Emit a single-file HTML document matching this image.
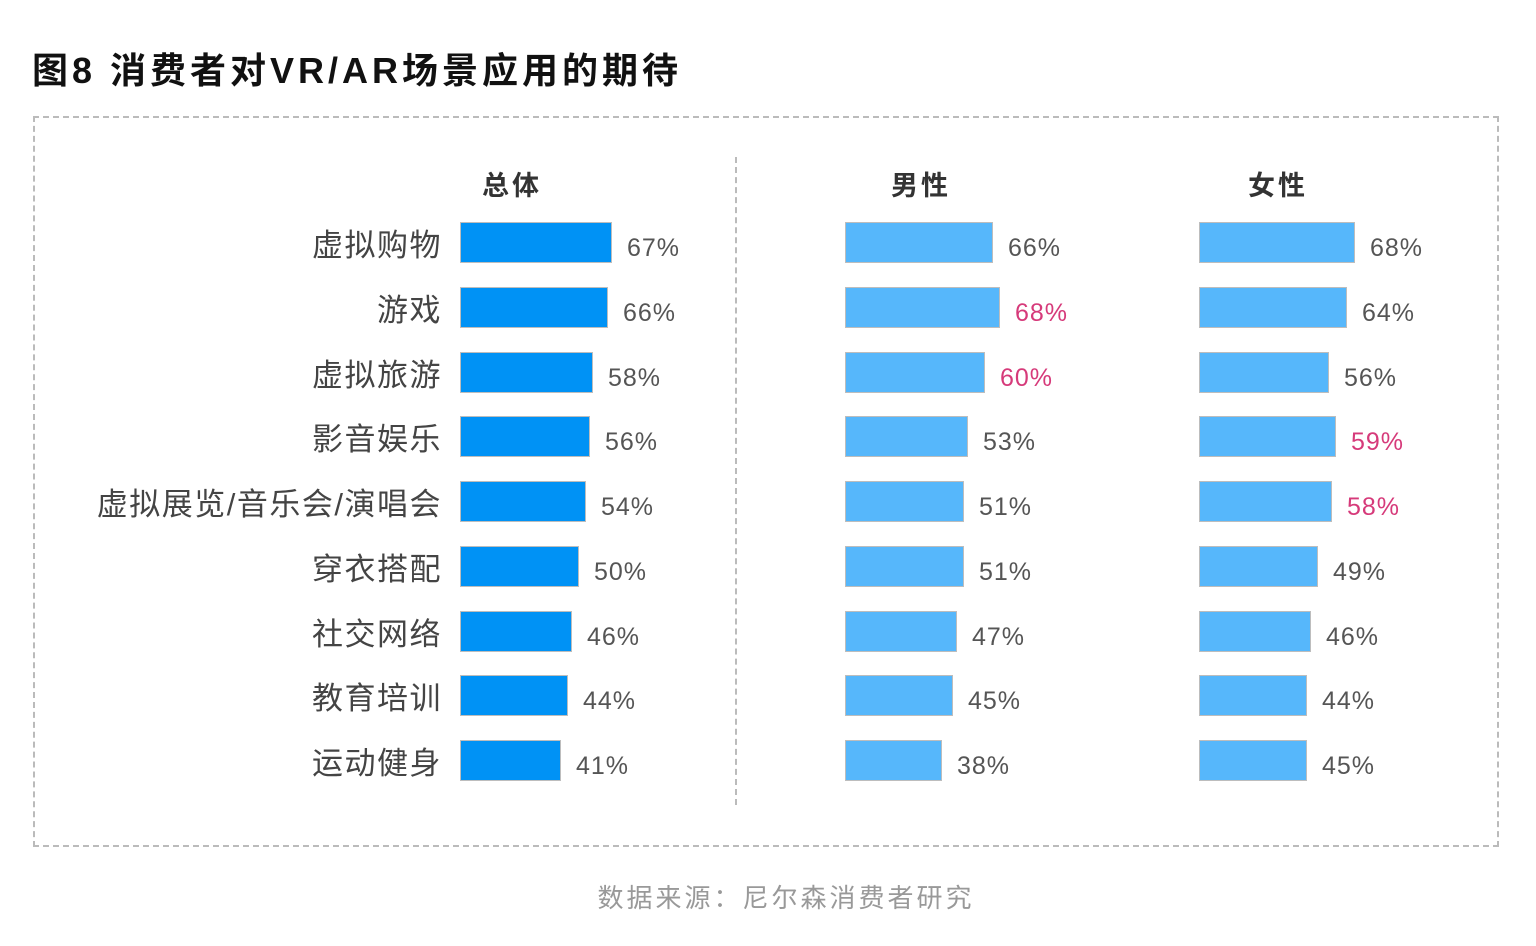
<!DOCTYPE html><html><head><meta charset="utf-8"><style>
body{margin:0;width:1536px;height:946px;background:#fff;position:relative;font-family:"Liberation Sans","Noto Sans CJK SC",sans-serif;overflow:hidden}
.a{position:absolute;white-space:nowrap}
.t{left:32px;top:42px;font-size:36px;font-weight:bold;color:#111;letter-spacing:4px}
.box{left:33px;top:116px;width:1462px;height:727px;border:2px dashed #bbb}
.vl{left:735px;top:157px;height:648px;border-left:2px dashed #bbb}
.h{font-size:27px;color:#333;font-weight:bold;transform:translateX(-50%);top:164px;letter-spacing:3px}
.c{font-size:31px;color:#444;right:1094px;line-height:40px;letter-spacing:1.5px}
.b{height:41px;border:1.5px solid #bdbdbd;box-sizing:border-box}
.v{font-size:25px;color:#555;line-height:40px;letter-spacing:1px}
.p{color:#d63a7a}
.f{font-size:26px;color:#999;left:18px;width:1536px;text-align:center;top:878px;letter-spacing:3px}
</style></head><body>
<div class="a t">图8 消费者对VR/AR场景应用的期待</div>
<div class="a box"></div><div class="a vl"></div>
<div class="a h" style="left:512px">总体</div>
<div class="a h" style="left:921px">男性</div>
<div class="a h" style="left:1278px">女性</div>
<div id="r"></div>
<div class="a f">数据来源：尼尔森消费者研究</div>
<script>
var cats=["虚拟购物","游戏","虚拟旅游","影音娱乐","虚拟展览/音乐会/演唱会","穿衣搭配","社交网络","教育培训","运动健身"];
var d=[[67,66,68],[66,68,64],[58,60,56],[56,53,59],[54,51,58],[50,51,49],[46,47,46],[44,45,44],[41,38,45]];
var W=[[152,148,156],[148,155,148],[133,140,130],[130,123,137],[126,119,133],[119,119,119],[112,112,112],[108,108,108],[101,97,108]];
var pk={"1,1":1,"2,1":1,"3,2":1,"4,2":1};
var xs=[460,845,1199],col=["#0092f5","#56b7fb","#56b7fb"],h="";
for(var i=0;i<9;i++){var cy=243+i*64.75;
h+='<div class="a c" style="top:'+(cy-17)+'px">'+cats[i]+'</div>';
for(var j=0;j<3;j++){var w=W[i][j];
h+='<div class="a b" style="left:'+xs[j]+'px;top:'+(cy-21)+'px;width:'+w+'px;background:'+col[j]+'"></div>';
h+='<div class="a v'+(pk[i+','+j]?' p':'')+'" style="left:'+(xs[j]+w+15)+'px;top:'+(cy-15)+'px">'+d[i][j]+'%</div>';}}
document.getElementById('r').innerHTML=h;
</script></body></html>
